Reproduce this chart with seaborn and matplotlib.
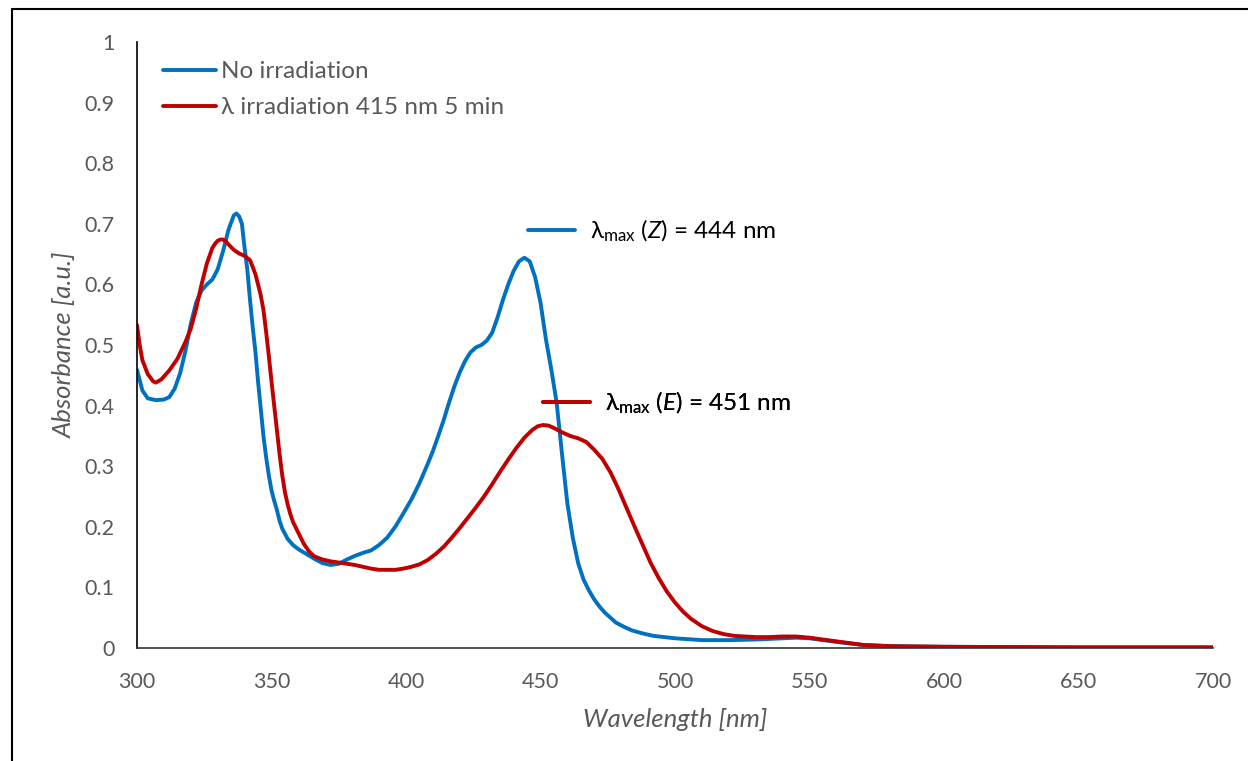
import numpy as np
import pandas as pd
import matplotlib
matplotlib.use("Agg")
import matplotlib.pyplot as plt
from matplotlib.lines import Line2D
from matplotlib.font_manager import FontProperties
import seaborn as sns

# ---------------- data ----------------
wl_none = [300, 302, 304, 307, 310, 312, 314, 316, 318, 320, 322, 324, 326, 328, 330,
           332, 334, 336, 337, 338, 339, 340, 341, 342, 343, 344, 345, 346, 347, 348,
           349, 350, 351, 352, 353, 354, 356, 358, 360, 363, 366, 369, 372, 375, 378,
           381, 384, 387, 390, 393, 396, 399, 402, 405, 408, 410, 412, 414, 416, 418,
           420, 422, 424, 426, 428, 430, 432, 434, 436, 438, 440, 442, 444, 446, 448,
           450, 452, 454, 456, 458, 460, 462, 464, 466, 468, 470, 472, 474, 476, 478,
           481, 484, 488, 492, 496, 500, 510, 520, 530, 540, 545, 550, 555, 560, 570,
           580, 600, 650, 700]
abs_none = [0.459, 0.425, 0.412, 0.409, 0.410, 0.414, 0.428, 0.453, 0.490, 0.535, 0.570,
            0.590, 0.600, 0.608, 0.625, 0.655, 0.690, 0.714, 0.717, 0.712, 0.700, 0.660,
            0.625, 0.575, 0.530, 0.490, 0.440, 0.395, 0.350, 0.315, 0.285, 0.260, 0.243,
            0.228, 0.210, 0.197, 0.180, 0.170, 0.163, 0.155, 0.147, 0.140, 0.137, 0.139,
            0.146, 0.152, 0.157, 0.161, 0.170, 0.182, 0.200, 0.222, 0.245, 0.272, 0.303,
            0.325, 0.350, 0.376, 0.405, 0.432, 0.455, 0.474, 0.488, 0.496, 0.500, 0.507,
            0.520, 0.545, 0.574, 0.600, 0.622, 0.638, 0.644, 0.638, 0.612, 0.570, 0.510,
            0.460, 0.405, 0.320, 0.238, 0.182, 0.140, 0.113, 0.095, 0.080, 0.068, 0.058,
            0.050, 0.042, 0.035, 0.029, 0.024, 0.020, 0.018, 0.016, 0.013, 0.013, 0.014,
            0.016, 0.017, 0.016, 0.013, 0.010, 0.005, 0.003, 0.002, 0.001, 0.001]

wl_irr = [300, 301, 302, 304, 306, 307, 309, 312, 315, 318, 320, 322, 324, 326, 328,
          329, 330, 331, 332, 333, 334, 336, 338, 340, 342, 343, 344, 345, 346, 347,
          348, 349, 350, 351, 352, 353, 354, 355, 356, 357, 358, 360, 362, 364, 366,
          369, 372, 375, 378, 381, 384, 387, 390, 393, 396, 399, 402, 405, 408, 411,
          414, 417, 420, 423, 426, 429, 432, 435, 438, 441, 444, 447, 449, 451, 453,
          455, 458, 461, 464, 467, 470, 473, 476, 479, 482, 485, 488, 491, 494, 497,
          500, 503, 506, 510, 514, 518, 522, 526, 530, 535, 540, 545, 550, 555, 560,
          565, 570, 580, 600, 650, 700]
abs_irr = [0.533, 0.500, 0.475, 0.452, 0.440, 0.438, 0.443, 0.458, 0.477, 0.505, 0.527,
           0.560, 0.600, 0.635, 0.660, 0.667, 0.672, 0.674, 0.674, 0.671, 0.666, 0.657,
           0.651, 0.647, 0.640, 0.629, 0.617, 0.600, 0.582, 0.558, 0.522, 0.482, 0.440,
           0.400, 0.360, 0.320, 0.285, 0.257, 0.237, 0.221, 0.208, 0.190, 0.172, 0.159,
           0.151, 0.146, 0.143, 0.141, 0.139, 0.137, 0.134, 0.131, 0.129, 0.129, 0.129,
           0.131, 0.134, 0.138, 0.145, 0.155, 0.167, 0.182, 0.198, 0.215, 0.232, 0.250,
           0.270, 0.291, 0.311, 0.330, 0.347, 0.360, 0.366, 0.368, 0.367, 0.363, 0.356,
           0.350, 0.346, 0.340, 0.327, 0.312, 0.290, 0.262, 0.231, 0.200, 0.170, 0.140,
           0.115, 0.093, 0.075, 0.060, 0.048, 0.036, 0.028, 0.023, 0.020, 0.019, 0.018,
           0.018, 0.019, 0.019, 0.017, 0.014, 0.011, 0.008, 0.005, 0.003, 0.002, 0.001,
           0.001]

series_names = ["No irradiation", "λ irradiation 415 nm 5 min"]
series_colors = ["#0070C0", "#C00000"]
x_ticks = [300, 350, 400, 450, 500, 550, 600, 650, 700]
y_ticks = [0, 0.1, 0.2, 0.3, 0.4, 0.5, 0.6, 0.7, 0.8, 0.9, 1]
y_ticklabels = ["0", "0.1", "0.2", "0.3", "0.4", "0.5", "0.6", "0.7", "0.8", "0.9", "1"]
note_labels = [r"λ$_{\mathregular{max}}$ ($\mathit{Z}$) = 444 nm",
               r"λ$_{\mathregular{max}}$ ($\mathit{E}$) = 451 nm"]

# ---------------- styling ----------------
sns.set_theme(style="white")
FAM = ["Lato", "DejaVu Sans"]
plt.rcParams["font.family"] = FAM
plt.rcParams["mathtext.fontset"] = "custom"
plt.rcParams["mathtext.rm"] = "Lato"
plt.rcParams["mathtext.it"] = "Lato:italic"
GREY = "#595959"
LW = 2.8

df = pd.concat([
    pd.DataFrame({"Wavelength": wl_none, "Absorbance": abs_none, "Series": series_names[0]}),
    pd.DataFrame({"Wavelength": wl_irr, "Absorbance": abs_irr, "Series": series_names[1]}),
], ignore_index=True)

fig = plt.figure(figsize=(12.48, 7.61), dpi=100)
ax = fig.add_axes([137 / 1248, 1 - 648 / 761, (1213 - 137) / 1248, (648 - 42) / 761])

sns.lineplot(data=df, x="Wavelength", y="Absorbance", hue="Series",
             hue_order=series_names, palette=series_colors, linewidth=LW,
             sort=True, estimator=None, ax=ax, legend=False)
for ln in ax.get_lines():
    ln.set_solid_joinstyle("round")
    ln.set_solid_capstyle("round")

ax.set_xlim(300, 700)
ax.set_ylim(0, 1)
ax.set_xticks(x_ticks)
ax.set_yticks(y_ticks)
ax.set_yticklabels(y_ticklabels)
ax.tick_params(axis="both", length=0, labelsize=15.5, labelcolor=GREY)
ax.tick_params(axis="y", pad=16)
ax.tick_params(axis="x", pad=17)
for s in ["top", "right"]:
    ax.spines[s].set_visible(False)
ax.spines["left"].set_color("black")
ax.spines["left"].set_linewidth(1.2)
ax.spines["bottom"].set_color("#333333")
ax.spines["bottom"].set_linewidth(1.2)
ax.set_xlabel("Wavelength [nm]", fontsize=18.5, style="italic", color=GREY, labelpad=12)
ax.set_ylabel("Absorbance [a.u.]", fontsize=18.5, style="italic", color=GREY, labelpad=6)

# main legend
handles = [Line2D([], [], color=c, lw=LW) for c in series_colors]
leg = ax.legend(handles, series_names, loc="upper left",
                bbox_to_anchor=((163 - 137) / 1076, 1 - 19 / 606),
                frameon=False, borderpad=0, borderaxespad=0,
                handlelength=2.2, handletextpad=0.2, labelspacing=0.62,
                prop=FontProperties(family=FAM, size=17.5))
for t in leg.get_texts():
    t.set_color(GREY)
ax.add_artist(leg)

# lambda-max annotations (legend-style keys)
anchors = [((528 - 137) / 1076, (648 - 231) / 606), ((543 - 137) / 1076, (648 - 403) / 606)]
for lab, col, anc in zip(note_labels, series_colors, anchors):
    lg = ax.legend([Line2D([], [], color=col, lw=LW)], [lab], loc="center left",
                   bbox_to_anchor=anc, frameon=False, borderpad=0, borderaxespad=0,
                   handlelength=1.95, handletextpad=0.6,
                   prop=FontProperties(family=FAM, size=17.5))
    lg.get_texts()[0].set_color("black")
    ax.add_artist(lg)

# outer frame (cropped border of the original chart area)
fig.add_artist(Line2D([12 / 1248, 1.0], [1 - 9 / 761, 1 - 9 / 761],
                      transform=fig.transFigure, color="black", lw=1.5))
fig.add_artist(Line2D([12 / 1248, 12 / 1248], [0.0, 1 - 9 / 761],
                      transform=fig.transFigure, color="black", lw=1.5))

fig.savefig("out.png", dpi=100, facecolor="white")
